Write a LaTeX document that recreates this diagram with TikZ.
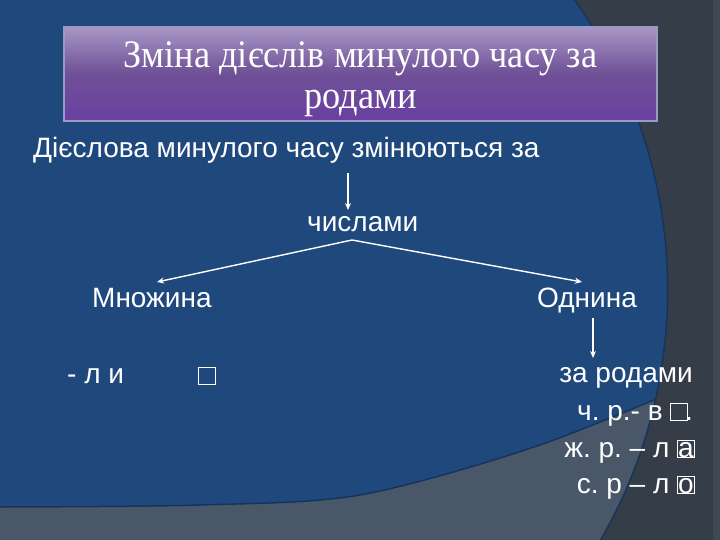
\documentclass[tikz,border=0pt]{standalone}
\usepackage{fontspec}
\setmainfont{Liberation Serif}
\newfontfamily\titlefont[FakeStretch=0.93]{Liberation Serif}
\newfontfamily\bodyfont{Liberation Sans}
\usetikzlibrary{arrows.meta}
\definecolor{bgblue}{HTML}{1F487C}
\definecolor{darkgrey}{HTML}{343D48}
\definecolor{bandgrey}{HTML}{4A5768}
\definecolor{edgeblue}{HTML}{17355C}
\definecolor{stripgrey}{HTML}{3E4753}
\definecolor{titletop}{HTML}{A896C6}
\definecolor{titlemid}{HTML}{6E5096}
\definecolor{titlebot}{HTML}{6A3FA2}
\definecolor{titleborder}{HTML}{9A9AC4}
\tikzset{
  bodytext/.style={text=white,font=\bodyfont\fontsize{28}{32}\selectfont\frenchspacing,inner sep=0pt},
  titletext/.style={text=white,font=\titlefont\fontsize{39}{42}\selectfont,inner sep=0pt},
  conn/.style={draw=white,line width=1.4pt,-{Stealth[length=7pt,width=6pt]}}
}
\newcommand\emptybox{{\setlength\fboxsep{0pt}\setlength\fboxrule{0.8pt}\fbox{\makebox[16pt]{\rule{0pt}{16pt}}}}}
\newcommand\letterbox[1]{{\setlength\fboxsep{0pt}\setlength\fboxrule{0.8pt}\fbox{\makebox[16pt]{\rule{0pt}{16pt}#1}}}}
\begin{document}
\begin{tikzpicture}[x=1pt,y=-1pt]
\useasboundingbox (0,0) rectangle (720,540);
% background
\fill[darkgrey] (0,0) rectangle (720,540);
\fill[stripgrey] (713,0) rectangle (720,540);
\begin{scope}
  \clip (169,290) circle[radius=498.6pt];
  \fill[bgblue] (0,0) rectangle (720,540);
  \fill[bandgrey] plot[smooth] coordinates {(0,507) (200,505) (360,495) (540,445) (720,372)} -- (720,540) -- (0,540) -- cycle;
  \draw[edgeblue,line width=1.5pt] plot[smooth] coordinates {(0,507) (200,505) (360,495) (540,445) (720,372)};
\end{scope}
\draw[edgeblue,line width=1.5pt] (169,290) circle[radius=498.6pt];
% title box
\shade[top color=titletop,bottom color=titlebot,middle color=titlemid] (64,27) rectangle (657,121);
\draw[titleborder,line width=1.5pt] (64,27) rectangle (657,121);
\node[titletext,anchor=base] (title1) at (360.5,68) {Зміна дієслів минулого часу за};
\node[titletext,anchor=base] (title2) at (360.5,109) {родами};
% body
\node[bodytext,anchor=base west] (intro) at (33,158) {Дієслова минулого часу змінюються за};
\node[bodytext,anchor=base west] (num) at (307,232) {числами};
\node[bodytext,anchor=base west] (plural) at (92,307) {Множина};
\node[bodytext,anchor=base west] (singular) at (537,307) {Однина};
\node[bodytext,anchor=base west] (li) at (67,383) {- л и};
\node[inner sep=0pt,anchor=south west,text=white] (libox) at (198,385) {\emptybox};
\node[bodytext,anchor=base east] (gender) at (693,382) {за родами};
\node[bodytext,anchor=base east] (masc) at (693,420) {ч. р.- в \emptybox\kern-3pt.};
\node[bodytext,anchor=base east] (fem) at (695,457) {ж. р. – л \letterbox{а}};
\node[bodytext,anchor=base east] (neut) at (695,493) {с. р – л \letterbox{о}};
% connectors
\coordinate (a1) at (348,173);
\coordinate (a2) at (348,210);
\coordinate (apex) at (352,240);
\coordinate (lend) at (157,282);
\coordinate (rend) at (582,282);
\coordinate (b1) at (593,318);
\coordinate (b2) at (593,358);
\draw[conn] (a1) -- (a2);
\draw[conn] (apex) -- (lend);
\draw[conn] (apex) -- (rend);
\draw[conn] (b1) -- (b2);
\end{tikzpicture}
\end{document}
